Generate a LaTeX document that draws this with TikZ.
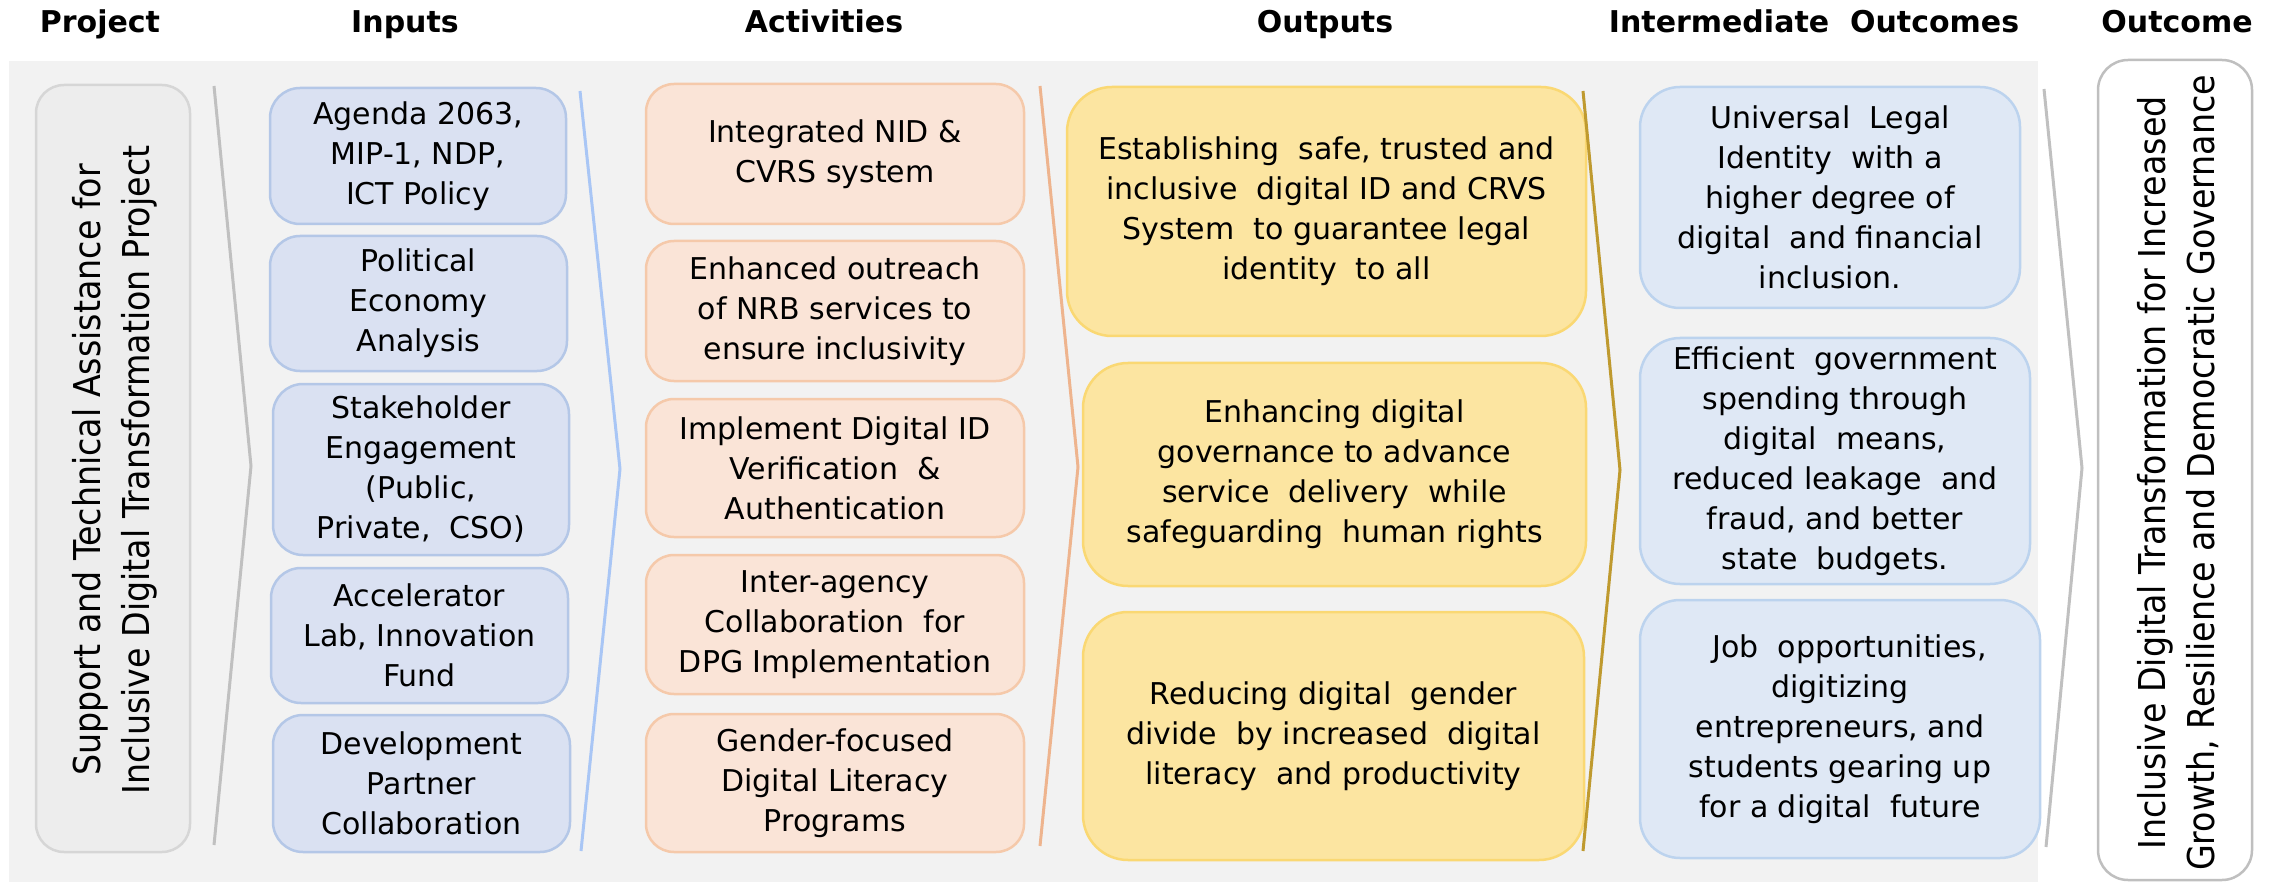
\documentclass[tikz,border=0pt]{standalone}
\usepackage{fontspec}
\setmainfont{DejaVu Sans}
\newfontfamily\condfont{DejaVu Sans Condensed}
\definecolor{bggray}{HTML}{F2F2F2}
\definecolor{projfill}{HTML}{EDEDED}
\definecolor{projdraw}{HTML}{D6D6D6}
\definecolor{infill}{HTML}{DAE1F2}
\definecolor{indraw}{HTML}{B4C7E7}
\definecolor{actfill}{HTML}{FAE4D7}
\definecolor{actdraw}{HTML}{F5C9AA}
\definecolor{outfill}{HTML}{FCE5A1}
\definecolor{outdraw}{HTML}{FAD873}
\definecolor{midfill}{HTML}{DFE8F5}
\definecolor{middraw}{HTML}{BCD3EE}
\definecolor{ocdraw}{HTML}{BFBFBF}
\definecolor{chevgray}{HTML}{C0C0C0}
\definecolor{chevblue}{HTML}{A9C6F5}
\definecolor{chevorange}{HTML}{EEB48E}
\definecolor{chevgold}{HTML}{BF9A2F}
\begin{document}
\begin{tikzpicture}[x=1pt,y=-1pt,
  box/.style={rectangle, rounded corners=30pt, line width=2.5pt, align=center,
    inner sep=0pt, font=\fontsize{30}{40}\selectfont},
  inbox/.style={box, fill=infill, draw=indraw},
  actbox/.style={box, fill=actfill, draw=actdraw, rounded corners=28pt},
  outbox/.style={box, fill=outfill, draw=outdraw, rounded corners=45pt},
  midbox/.style={box, fill=midfill, draw=middraw, rounded corners=40pt},
  header/.style={font=\bfseries\fontsize{30}{36}\selectfont, anchor=base},
  vtext/.style={rotate=90, align=center, inner sep=0pt,
    font=\condfont\fontsize{37}{49}\selectfont},
  chev/.style={line width=3pt, line join=miter}
]
\useasboundingbox (0,0) rectangle (2280,882);
\fill[bggray] (9,61) rectangle (2038,882);

% headers
\node[header] (hproj) at (100,33) {Project};
\node[header] (hin) at (405,33) {Inputs};
\node[header] (hact) at (824,33) {Activities};
\node[header] (hout) at (1325,33) {Outputs};
\node[header] (hmid) at (1814,33) {Intermediate\ \ Outcomes};
\node[header] (hoc) at (2177,33) {Outcome};

% project
\node[rectangle, rounded corners=28pt, line width=2.5pt, fill=projfill, draw=projdraw,
  minimum width=154pt, minimum height=767pt] (proj) at (113,468.5) {};
\node[vtext] (projtxt) at (115,470) {Support and Technical Assistance for\\Inclusive Digital Transformation Project};

% inputs
\node[inbox, minimum width=296pt, minimum height=136pt] (i1) at (418,156) {Agenda 2063,\\MIP-1, NDP,\\ICT Policy};
\node[inbox, minimum width=297pt, minimum height=135pt] (i2) at (418.5,303.5) {Political\\Economy\\Analysis};
\node[inbox, minimum width=296pt, minimum height=171pt] (i3) at (421,469.5) {Stakeholder\\Engagement\\(Public,\\Private,\ \ CSO)};
\node[inbox, minimum width=297pt, minimum height=135pt] (i4) at (419.5,635.5) {Accelerator\\Lab, Innovation\\Fund};
\node[inbox, minimum width=297pt, minimum height=137pt] (i5) at (421.5,783.5) {Development\\Partner\\Collaboration};

% activities
\node[actbox, minimum width=378pt, minimum height=140pt] (a1) at (835,154) {Integrated NID \&\\CVRS system};
\node[actbox, minimum width=378pt, minimum height=140pt] (a2) at (835,311) {Enhanced outreach\\of NRB services to\\ensure inclusivity};
\node[actbox, minimum width=378pt, minimum height=138pt] (a3) at (835,468) {Implement Digital ID\\Verification\ \ \&\\Authentication};
\node[actbox, minimum width=378pt, minimum height=139pt] (a4) at (835,624.5) {Inter-agency\\Collaboration\ \ for\\DPG Implementation};
\node[actbox, minimum width=378pt, minimum height=138pt] (a5) at (835,783) {Gender-focused\\Digital Literacy\\Programs};

% outputs
\node[outbox, minimum width=519pt, minimum height=249pt] (o1) at (1326.5,211.5) {Establishing\ \ safe, trusted and\\inclusive\ \ digital ID and CRVS\\System\ \ to guarantee legal\\identity\ \ to all};
\node[outbox, minimum width=503pt, minimum height=223pt] (o2) at (1334.5,474.5) {Enhancing digital\\governance to advance\\service\ \ delivery\ \ while\\safeguarding\ \ human rights};
\node[outbox, minimum width=501pt, minimum height=248pt] (o3) at (1333.5,736) {Reducing digital\ \ gender\\divide\ \ by increased\ \ digital\\literacy\ \ and productivity};

% intermediate outcomes
\node[midbox, minimum width=380pt, minimum height=221pt] (m1) at (1830,197.5) {Universal\ \ Legal\\Identity\ \ with a\\higher degree of\\digital\ \ and financial\\inclusion.};
\node[midbox, minimum width=390pt, minimum height=246pt] (m2) at (1835,461) {Efficient\ \ government\\spending through\\digital\ \ means,\\reduced leakage\ \ and\\fraud, and better\\state\ \ budgets.};
\node[midbox, minimum width=400pt, minimum height=258pt] (m3) at (1840,729) {\ \ Job\ \ opportunities,\\digitizing\\entrepreneurs, and\\students gearing up\\for a digital\ \ future};

% outcome
\node[rectangle, rounded corners=30pt, line width=2.5pt, fill=white, draw=ocdraw,
  minimum width=154pt, minimum height=820pt] (oc) at (2175,470) {};
\node[vtext] (octxt) at (2178,473) {Inclusive Digital Transformation for Increased\\Growth, Resilience and Democratic Governance};

% chevron separators
\coordinate (c1t) at (214,86);  \coordinate (c1m) at (251,466); \coordinate (c1b) at (214,845);
\coordinate (c2t) at (580,91);  \coordinate (c2m) at (620,469); \coordinate (c2b) at (581,851);
\coordinate (c3t) at (1040,86); \coordinate (c3m) at (1078,467); \coordinate (c3b) at (1040,846);
\coordinate (c4t) at (1583,91); \coordinate (c4m) at (1620,470); \coordinate (c4b) at (1583,851);
\coordinate (c5t) at (2044,89); \coordinate (c5m) at (2082,468); \coordinate (c5b) at (2046,847);
\draw[chev, chevgray] (c1t) -- (c1m) -- (c1b);
\draw[chev, chevblue] (c2t) -- (c2m) -- (c2b);
\draw[chev, chevorange] (c3t) -- (c3m) -- (c3b);
\draw[chev, chevgold] (c4t) -- (c4m) -- (c4b);
\draw[chev, chevgray] (c5t) -- (c5m) -- (c5b);
\end{tikzpicture}
\end{document}
